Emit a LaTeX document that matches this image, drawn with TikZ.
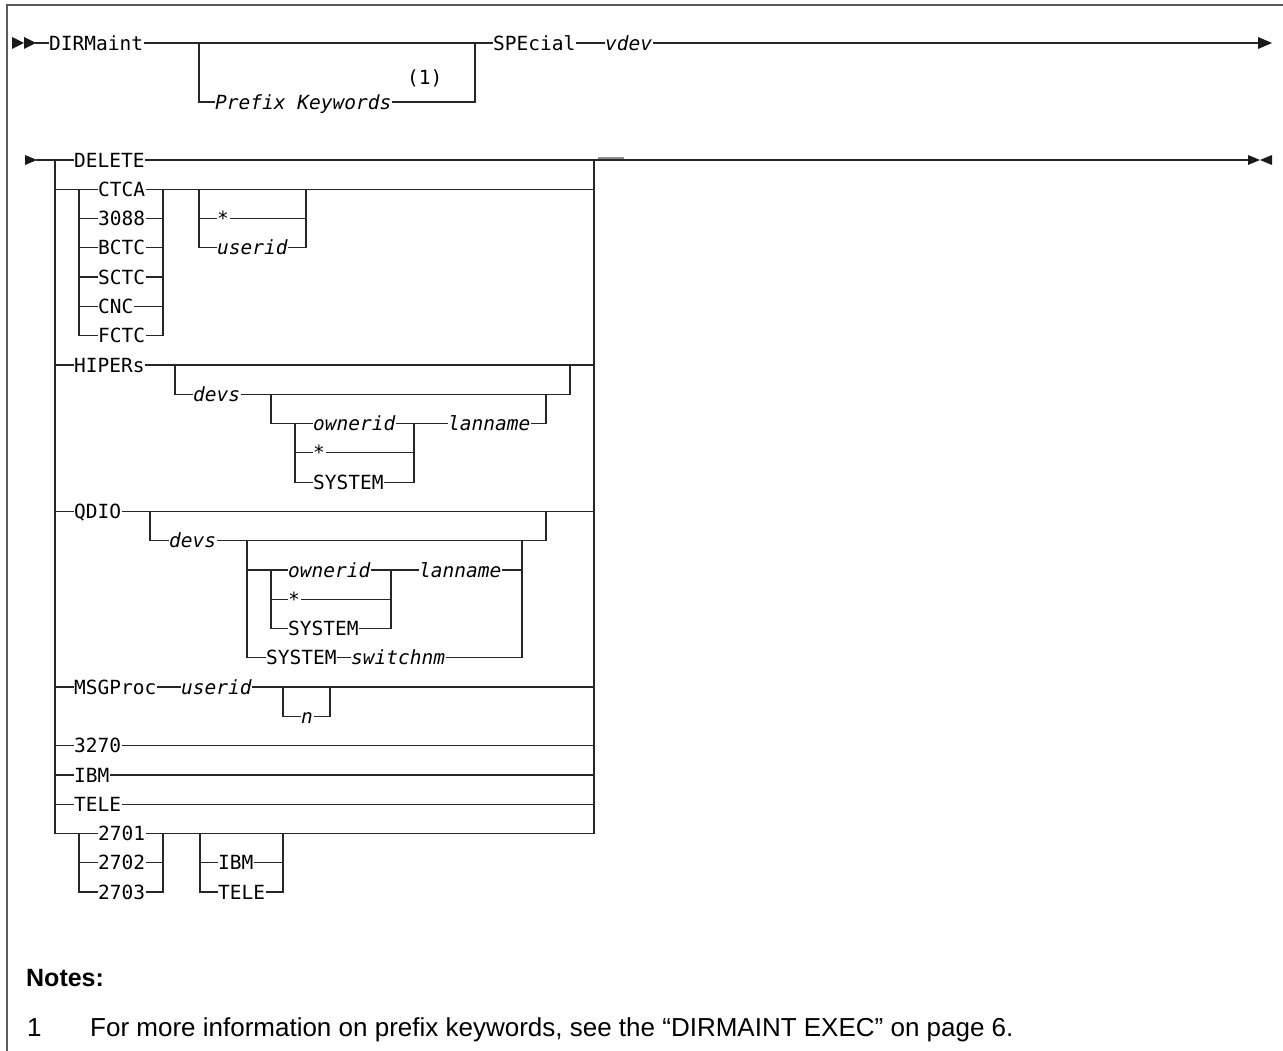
\documentclass[tikz,border=0pt]{standalone}
\usepackage{fontspec}
\newfontfamily\dmono{DejaVu Sans Mono}[ItalicFont={DejaVu Sans Mono Oblique}]
\newfontfamily\nsans{Liberation Sans}
\begin{document}
\begin{tikzpicture}[x=1pt,y=-1pt,
  lbl/.style={inner xsep=1.2pt, inner ysep=0pt, outer sep=0pt, anchor=west,
    text height=14.2pt, text depth=0pt, font=\dmono\fontsize{19.5}{19.5}\selectfont},
  itl/.style={font=\dmono\itshape\fontsize{19.5}{19.5}\selectfont},
  rail/.style={line width=1.2pt, line cap=rect, black!85},
  tipfill/.style={fill=black!90},
  frame/.style={line width=1.6pt, black!65},
  notehead/.style={anchor=base west, inner sep=0pt, font=\nsans\bfseries\fontsize{25}{25}\selectfont},
  notetext/.style={anchor=base west, inner sep=0pt, font=\nsans\fontsize{26}{26}\selectfont}]
\useasboundingbox (0,0) rectangle (1283,1051);
% frame
\draw[frame] (7,1051) -- (7,5) -- (1283,5);

% ---------------- row 1 ----------------
\fill[tipfill] (12,37) -- (24,43) -- (12,49) -- cycle;
\fill[tipfill] (24,37) -- (36,43) -- (24,49) -- cycle;
\coordinate (s1) at (36,43);
\node[lbl] (dirm) at (48,43) {DIRMaint};
\coordinate (pa) at (199,43);
\coordinate (pb) at (475,43);
\node[lbl,itl] (pk) at (214,102) {Prefix Keywords};
\node[lbl] (nt1) at (406,77) {(1)};
\node[lbl] (spe) at (492,43) {SPEcial};
\node[lbl,itl] (vdev) at (604,43) {vdev};
\coordinate (e1) at (1258,43);
\draw[rail] (s1) -- (dirm.west);
\draw[rail] (dirm.east) -- (pa) -- (pb) -- (spe.west);
\draw[rail] (pa) |- (pk.west);
\draw[rail] (pk.east) -| (pb);
\draw[rail] (spe.east) -- (vdev.west);
\draw[rail] (vdev.east) -- (e1);
\fill[tipfill] (1258,37) -- (1272,43) -- (1258,49) -- cycle;

% ---------------- row 2: main choice ----------------
\fill[tipfill] (25,155) -- (37,160) -- (25,165) -- cycle;
\coordinate (s2) at (37,160);
\coordinate (L0) at (55,160);   \coordinate (R0) at (594,160);
\coordinate (L23) at (55,833.4); \coordinate (R23) at (594,833.4);
\coordinate (e2) at (1248,160);
\draw[rail] (L0) -- (L23);
\draw[rail] (R0) -- (R23);
\node[lbl] (del) at (73,160) {DELETE};
\draw[rail] (s2) -- (L0) -- (del.west);
\draw[rail] (del.east) -- (R0) -- (e2);
\draw[line width=2.4pt, black!45] (598,158) -- (624,158);
\fill[tipfill] (1248,155) -- (1260,160) -- (1248,165) -- cycle;
\fill[tipfill] (1272,155) -- (1260,160) -- (1272,165) -- cycle;

% CTCA group
\node[lbl] (ctca) at (97,189.3) {CTCA};
\node[lbl] (t3088) at (97,218.6) {3088};
\node[lbl] (bctc) at (97,247.8) {BCTC};
\node[lbl] (sctc) at (97,277.1) {SCTC};
\node[lbl] (cnc) at (97,306.4) {CNC};
\node[lbl] (fctc) at (97,335.7) {FCTC};
\coordinate (ca) at (79,189.3); \coordinate (cb) at (163,189.3);
\coordinate (ua) at (199,189.3); \coordinate (ub) at (306,189.3);
\coordinate (R1) at (594,189.3); \coordinate (L1) at (55,189.3);
\draw[rail] (L1) -- (ctca.west);
\draw[rail] (ctca.east) -- (cb) -- (ua) -- (ub) -- (R1);
\draw[rail] (ca) |- (fctc.west);
\draw[rail] (cb) |- (fctc.east);
\draw[rail] (79,218.6) -- (t3088.west);  \draw[rail] (t3088.east) -- (163,218.6);
\draw[rail] (79,247.8) -- (bctc.west);   \draw[rail] (bctc.east) -- (163,247.8);
\draw[rail] (79,277.1) -- (sctc.west);   \draw[rail] (sctc.east) -- (163,277.1);
\draw[rail] (79,306.4) -- (cnc.west);    \draw[rail] (cnc.east) -- (163,306.4);
\node[lbl] (cstar) at (216,218.6) {*};
\node[lbl,itl] (cuid) at (216,247.8) {userid};
\draw[rail] (ua) |- (cuid.west);
\draw[rail] (ub) |- (cuid.east);
\draw[rail] (199,218.6) -- (cstar.west); \draw[rail] (cstar.east) -- (306,218.6);

% HIPERs group
\node[lbl] (hip) at (73,365.0) {HIPERs};
\node[lbl,itl] (hdevs) at (192,394.2) {devs};
\node[lbl,itl] (hown) at (312,423.5) {ownerid};
\node[lbl,itl] (hlan) at (447,423.5) {lanname};
\node[lbl] (hstar) at (312,452.8) {*};
\node[lbl] (hsys) at (312,482.1) {SYSTEM};
\coordinate (L7) at (55,365.0); \coordinate (R7) at (594,365.0);
\coordinate (ha) at (175,365.0); \coordinate (hb) at (570,365.0);
\coordinate (hc) at (271,394.2); \coordinate (hd) at (546,394.2);
\coordinate (he) at (295,423.5); \coordinate (hf) at (414,423.5);
\draw[rail] (L7) -- (hip.west);
\draw[rail] (hip.east) -- (ha) -- (hb) -- (R7);
\draw[rail] (ha) |- (hdevs.west);
\draw[rail] (hdevs.east) -- (hc) -- (hd) -| (hb);
\draw[rail] (hc) |- (he) -- (hown.west);
\draw[rail] (hown.east) -- (hf) -- (hlan.west);
\draw[rail] (hlan.east) -| (hd);
\draw[rail] (he) |- (hsys.west);
\draw[rail] (hsys.east) -| (hf);
\draw[rail] (295,452.8) -- (hstar.west); \draw[rail] (hstar.east) -- (414,452.8);

% QDIO group
\node[lbl] (qdio) at (73,511.4) {QDIO};
\node[lbl,itl] (qdevs) at (168,540.6) {devs};
\node[lbl,itl] (qown) at (287,569.9) {ownerid};
\node[lbl,itl] (qlan) at (418,569.9) {lanname};
\node[lbl] (qstar) at (287,599.2) {*};
\node[lbl] (qsys) at (287,628.5) {SYSTEM};
\node[lbl] (qsys2) at (265,657.8) {SYSTEM};
\node[lbl,itl] (qsw) at (350,657.8) {switchnm};
\coordinate (L12) at (55,511.4); \coordinate (R12) at (594,511.4);
\coordinate (qa) at (150,511.4); \coordinate (qb) at (546,511.4);
\coordinate (qc) at (247,540.6); \coordinate (qd) at (522,540.6);
\coordinate (qe) at (271,569.9); \coordinate (qf) at (391,569.9);
\draw[rail] (L12) -- (qdio.west);
\draw[rail] (qdio.east) -- (qa) -- (qb) -- (R12);
\draw[rail] (qa) |- (qdevs.west);
\draw[rail] (qdevs.east) -- (qc) -- (qd) -| (qb);
\draw[rail] (qc) |- (qsys2.west);
\draw[rail] (247,569.9) -- (qe) -- (qown.west);
\draw[rail] (qown.east) -- (qf) -- (qlan.west);
\draw[rail] (qlan.east) -- (522,569.9);
\draw[rail] (qe) |- (qsys.west);
\draw[rail] (qsys.east) -| (qf);
\draw[rail] (271,599.2) -- (qstar.west); \draw[rail] (qstar.east) -- (391,599.2);
\draw[rail] (qsys2.east) -- (qsw.west);
\draw[rail] (qsw.east) -| (qd);

% MSGProc
\node[lbl] (msg) at (73,687.0) {MSGProc};
\node[lbl,itl] (muid) at (180,687.0) {userid};
\node[lbl,itl] (mn) at (300,716.3) {n};
\coordinate (L18) at (55,687.0); \coordinate (R18) at (594,687.0);
\coordinate (ma) at (283,687.0); \coordinate (mb) at (330,687.0);
\draw[rail] (L18) -- (msg.west);
\draw[rail] (msg.east) -- (muid.west);
\draw[rail] (muid.east) -- (ma) -- (mb) -- (R18);
\draw[rail] (ma) |- (mn.west);
\draw[rail] (mn.east) -| (mb);

% 3270, IBM, TELE
\node[lbl] (t3270) at (73,745.6) {3270};
\node[lbl] (ibm) at (73,774.9) {IBM};
\node[lbl] (tele) at (73,804.2) {TELE};
\draw[rail] (55,745.6) -- (t3270.west); \draw[rail] (t3270.east) -- (594,745.6);
\draw[rail] (55,774.9) -- (ibm.west);   \draw[rail] (ibm.east) -- (594,774.9);
\draw[rail] (55,804.2) -- (tele.west);  \draw[rail] (tele.east) -- (594,804.2);

% 2701 group
\node[lbl] (t2701) at (97,833.4) {2701};
\node[lbl] (t2702) at (97,862.7) {2702};
\node[lbl] (t2703) at (97,892.0) {2703};
\node[lbl] (ibm2) at (217,862.7) {IBM};
\node[lbl] (tele2) at (217,892.0) {TELE};
\coordinate (ka) at (79,833.4); \coordinate (kb) at (163,833.4);
\coordinate (kc) at (200,833.4); \coordinate (kd) at (283,833.4);
\draw[rail] (L23) -- (t2701.west);
\draw[rail] (t2701.east) -- (kb) -- (kc) -- (kd) -- (R23);
\draw[rail] (ka) |- (t2703.west);
\draw[rail] (kb) |- (t2703.east);
\draw[rail] (79,862.7) -- (t2702.west); \draw[rail] (t2702.east) -- (163,862.7);
\draw[rail] (kc) |- (tele2.west);
\draw[rail] (kd) |- (tele2.east);
\draw[rail] (200,862.7) -- (ibm2.west); \draw[rail] (ibm2.east) -- (283,862.7);

% Notes
\node[notehead] (notes) at (26,986) {Notes:};
\node[notetext] (fnum) at (27,1036) {1};
\node[notetext] (ftext) at (90,1036) {For more information on prefix keywords, see the “DIRMAINT EXEC” on page 6.};
\end{tikzpicture}
\end{document}
